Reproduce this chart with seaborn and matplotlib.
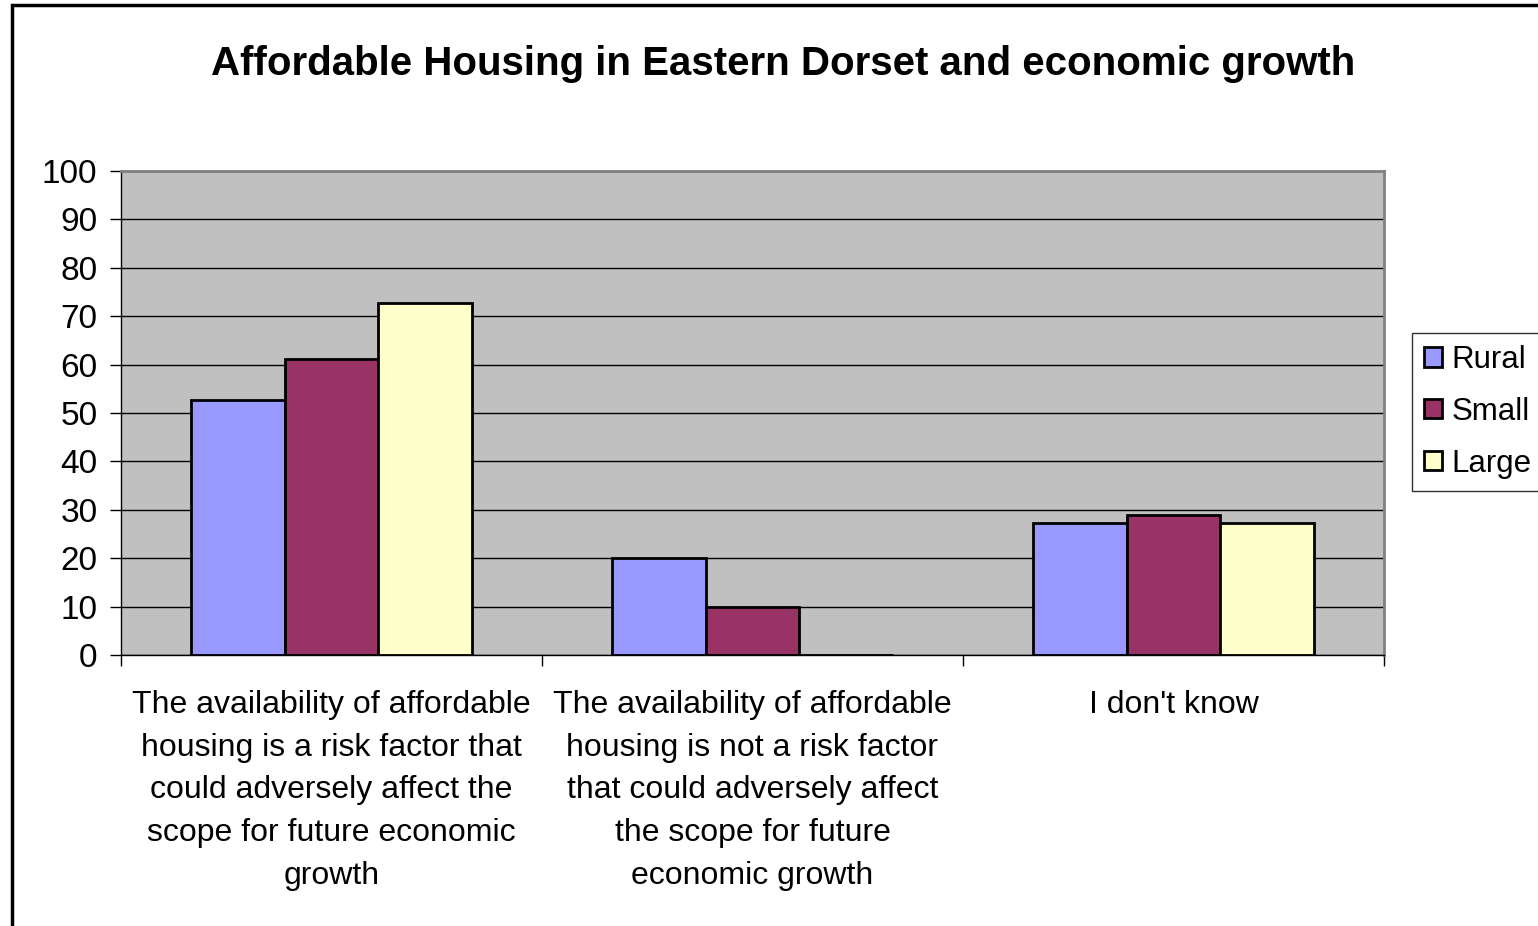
import matplotlib
matplotlib.use("Agg")
import matplotlib.pyplot as plt
import matplotlib.patches as mpatches
import seaborn as sns
import pandas as pd

categories = [
    "The availability of affordable\nhousing is a risk factor that\ncould adversely affect the\nscope for future economic\ngrowth",
    "The availability of affordable\nhousing is not a risk factor\nthat could adversely affect\nthe scope for future\neconomic growth",
    "I don't know",
]
series = ["Rural", "Small", "Large"]
rural = [52.6, 20.0, 27.3]
small = [61.1, 10.0, 28.9]
large = [72.7, 0.0, 27.3]
colors = ["#9999FF", "#993366", "#FFFFCC"]
title = "Affordable Housing in Eastern Dorset and economic growth"
yticks = [0, 10, 20, 30, 40, 50, 60, 70, 80, 90, 100]

rows = []
for s, vals in zip(series, [rural, small, large]):
    for c, v in zip(categories, vals):
        rows.append({"category": c, "series": s, "value": v})
df = pd.DataFrame(rows)

sns.set_theme(style="white")
plt.rcParams["font.family"] = ["Liberation Sans", "DejaVu Sans"]
plt.rcParams["text.color"] = "black"
plt.rcParams["xtick.color"] = "black"
plt.rcParams["ytick.color"] = "black"
plt.rcParams["xtick.labelcolor"] = "black"
plt.rcParams["ytick.labelcolor"] = "black"

fig = plt.figure(figsize=(15.38, 9.26), dpi=100)
ax = fig.add_axes([121 / 1538, 1 - 655 / 926, (1384 - 121) / 1538, (655 - 171) / 926])
ax.set_facecolor("#C0C0C0")

sns.barplot(data=df, x="category", y="value", hue="series", order=categories,
            hue_order=series, palette=colors, width=0.667, gap=0,
            edgecolor="black", linewidth=2, saturation=1, ax=ax, legend=True)

ax.set_ylim(0, 100)
ax.set_xlim(-0.5, 2.5)
ax.set_yticks(yticks)
ax.set_yticklabels([str(t) for t in yticks], fontsize=24, color="black")
ax.yaxis.grid(True, color="black", linewidth=1)
ax.set_axisbelow(True)
ax.tick_params(axis="y", length=8, width=1, color="black", pad=9, direction="out", left=True)

# boundaries as major ticks, labels at centers as minor ticks
ax.set_xticks([-0.5, 0.5, 1.5, 2.5])
ax.set_xticklabels(["", "", "", ""])
ax.set_xticks([0, 1, 2], minor=True)
ax.set_xticklabels(categories, minor=True, fontsize=23, linespacing=1.56, va="top",
                   color="black")
ax.tick_params(axis="x", which="major", length=8, width=1, color="black", direction="out", bottom=True)
ax.tick_params(axis="x", which="minor", length=0, pad=25)
ax.set_xlabel("")
ax.set_ylabel("")

for side in ["top", "right"]:
    ax.spines[side].set_color("#808080")
    ax.spines[side].set_linewidth(2)
ax.spines["left"].set_color("black")
ax.spines["bottom"].set_color("black")
ax.spines["left"].set_linewidth(1)
ax.spines["bottom"].set_linewidth(1)

fig.text(783 / 1538, 1 - 64 / 926, title, ha="center", va="center",
         fontsize=29, fontweight="bold", color="black")

handles, labels = ax.get_legend_handles_labels()
ax.legend_.remove()
leg = fig.legend(handles, labels, loc="upper left",
                 bbox_to_anchor=(1412 / 1538, 1 - 333 / 926), fontsize=22.5,
                 frameon=True, fancybox=False, edgecolor="black",
                 handlelength=0.58, handleheight=0.58, handletextpad=0.3,
                 labelspacing=0.7, borderpad=0.38, borderaxespad=0)
leg.get_frame().set_linewidth(1)
for t in leg.get_texts():
    t.set_color("black")

border = mpatches.Rectangle((12 / 1538, -0.1), 1.2, 1.1 - 5 / 926,
                            transform=fig.transFigure, fill=False,
                            edgecolor="black", linewidth=2.5, clip_on=False)
fig.patches.append(border)

fig.savefig("out.png", dpi=100, facecolor="white")
